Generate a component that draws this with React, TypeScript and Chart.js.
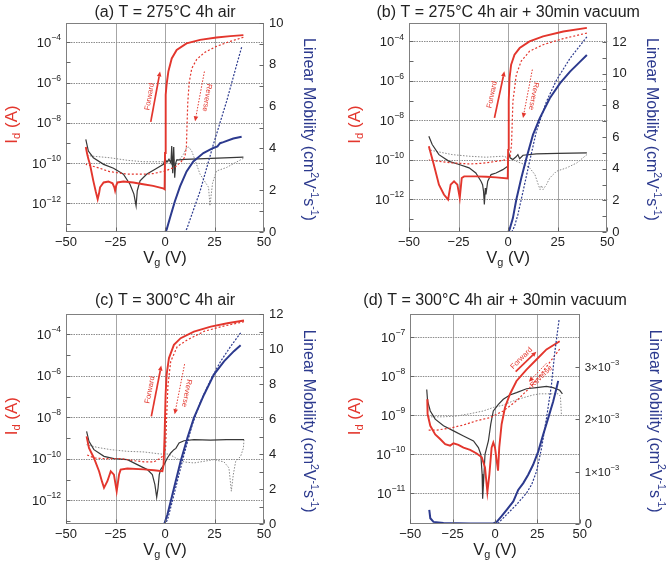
import React, { useEffect, useRef } from "react";
import { Chart, registerables } from "chart.js";

Chart.register(...registerables);

type Pt = [number, number];

// ---------- shared axis values ----------
const X_TICKS = [-50, -25, 0, 25, 50];
const X_GRID = [-25, 0, 25];

// ---------- (a) T = 275°C 4h air ----------  [Vg (V), log10 Id (A)]  /  [Vg, mobility]
const A_ID_FWD: Pt[] = [[-40,-9.2],[-39.3,-9.55],[-38.7,-9.8],[-37.9,-10.06],[-36.2,-10.88],[-35,-11.4],[-34,-11.79],[-33.3,-11.5],[-32.8,-11.2],[-31,-10.96],[-28.6,-10.91],[-26.5,-11.0],[-25.6,-11.2],[-25.2,-11.37],[-24.6,-11.1],[-24,-10.96],[-21,-10.91],[-16,-10.96],[-11,-11.05],[-6,-11.13],[-1,-11.25],[-0.2,-11.3],[0,-9.5],[0.2,-7.5],[0.5,-6.6],[0.8,-6.1],[1.7,-5.45],[3.4,-4.8],[5.9,-4.38],[10.9,-4.05],[17.7,-3.88],[26,-3.76],[33,-3.69],[39.6,-3.64]];
const A_ID_REV: Pt[] = [[39.6,-3.75],[33,-3.95],[26,-4.2],[20,-4.5],[16,-4.85],[13.5,-5.3],[12.2,-6.0],[11.5,-7.0],[11.1,-8.2],[10.8,-9.2],[10,-9.7],[8,-9.95],[5,-10.2],[0,-10.39],[-6,-10.52],[-11,-10.55],[-19,-10.55],[-28,-10.42],[-34,-10.22],[-40,-10.06]];
const A_IG_FWD: Pt[] = [[-40,-8.82],[-38.7,-9.4],[-36.2,-9.73],[-31,-10.06],[-26,-10.25],[-21,-10.55],[-17.7,-11.05],[-15.7,-11.54],[-14.6,-12.12],[-14,-11.37],[-12.6,-10.88],[-9.3,-10.55],[-5,-10.3],[-0.8,-10.06],[0,-9.8],[1,-9.95],[2,-9.8],[3,-10.0],[3.4,-9.15],[3.9,-10.5],[4.4,-9.2],[4.9,-10.72],[5.4,-10.0],[5.9,-9.85],[10,-9.81],[20,-9.78],[30,-9.74],[39.6,-9.7]];
const A_IG_REV: Pt[] = [[39.6,-9.76],[36,-9.95],[31,-10.22],[26,-10.39],[24,-11.0],[22.7,-12.12],[22,-11.2],[21,-11.05],[17.7,-10.55],[15,-9.8],[13.5,-9.4],[12,-9.2],[10.9,-9.23],[9.3,-9.56],[7.6,-9.8],[4,-9.86],[0,-9.93],[-11,-9.93],[-19,-9.86],[-28,-9.73],[-37,-9.65],[-40,-9.6]];
const A_MU_FWD: Pt[] = [[-40,0],[0,0],[0.8,0.11],[2.5,0.67],[5,1.47],[7.6,2.18],[10.9,2.9],[14.3,3.38],[19.4,3.78],[24.4,4.02],[26.5,4.1],[27.8,4.25],[29.5,4.3],[34.5,4.47],[38.7,4.56]];
const A_MU_REV: Pt[] = [[38.7,8.84],[36.2,8.0],[31.1,6.25],[24.4,4.18],[17.7,1.95],[11,0.15],[10,0],[-40,0]];

// ---------- (b) T = 275°C 4h air + 30min vacuum ----------
const B_ID_FWD: Pt[] = [[-40,-9.32],[-37.5,-10.24],[-34.9,-11.26],[-32.4,-11.76],[-30.3,-12.02],[-29,-11.26],[-27.3,-11.09],[-25.6,-11.26],[-24.4,-11.93],[-23.4,-10.92],[-22.2,-10.84],[-16.3,-10.84],[-11,-10.86],[-6.1,-10.89],[-0.2,-10.95],[0,-9.5],[0.3,-7.0],[0.7,-5.86],[1.5,-5.18],[3.2,-4.68],[5.8,-4.34],[10.8,-4.0],[17.6,-3.75],[27.8,-3.5],[39.7,-3.32]];
const B_ID_REV: Pt[] = [[39.7,-3.58],[27.8,-3.86],[17.6,-4.17],[10.8,-4.5],[6.6,-5.0],[4.1,-5.69],[2.4,-7.04],[1.7,-9.23],[1,-9.82],[-1,-10.0],[-6.1,-10.08],[-12.9,-10.18],[-19.7,-10.21],[-28.1,-10.16],[-34.9,-10.08],[-40,-10.0]];
const B_IG_FWD: Pt[] = [[-40,-8.81],[-38.3,-9.23],[-34.9,-9.74],[-29.8,-10.08],[-24.7,-10.24],[-19.7,-10.41],[-16.3,-10.67],[-13.7,-11.09],[-12.9,-11.26],[-12.4,-11.6],[-12.0,-12.27],[-11.5,-11.43],[-11.2,-11.76],[-10.3,-11.09],[-8.6,-10.75],[-6.1,-10.67],[-2.7,-10.5],[-0.2,-10.33],[0.3,-9.65],[1,-9.9],[2.4,-9.99],[4,-9.85],[4.9,-9.74],[5.8,-9.95],[7.5,-9.77],[14.2,-9.7],[25,-9.68],[39.7,-9.65]];
const B_IG_REV: Pt[] = [[39.7,-9.74],[34.6,-10.16],[29.5,-10.41],[24.4,-10.58],[21,-10.92],[19.3,-11.26],[17.6,-11.51],[16.8,-11.3],[16.1,-11.51],[15.2,-11.26],[13.5,-10.75],[10.8,-10.41],[8.3,-10.24],[4.1,-10.08],[0.7,-9.91],[-2.7,-9.82],[-11.2,-9.87],[-19.7,-9.82],[-28.1,-9.74],[-36.6,-9.57],[-40,-9.49]];
const B_MU_FWD: Pt[] = [[-38,0],[0,0],[0.7,0.15],[2.4,0.88],[4.1,2.04],[6.6,3.4],[9.2,4.66],[12.5,6.13],[15.9,7.18],[21,8.45],[26.1,9.39],[31.2,10.13],[36.3,10.76],[39.7,11.18]];
const B_MU_REV: Pt[] = [[39.7,12.33],[31.2,10.97],[24.4,9.6],[19.3,8.24],[14.2,6.34],[10.8,4.45],[7.5,2.56],[4.9,1.09],[3.2,0.36],[2,0.04],[1.5,0],[-38,0]];

// ---------- (c) T = 300°C 4h air ----------
const C_ID_FWD: Pt[] = [[-39.6,-8.92],[-38.4,-9.48],[-35.9,-9.96],[-33.3,-10.6],[-31.8,-11.1],[-30.8,-11.4],[-29.1,-11.08],[-27.4,-10.6],[-25.8,-10.76],[-24.4,-11.56],[-23.2,-10.76],[-22.4,-10.52],[-19,-10.47],[-10.6,-10.51],[-5.6,-10.55],[-1.3,-10.6],[-0.7,-10.28],[-0.2,-8.84],[0.3,-6.92],[0.8,-5.96],[2,-5.15],[4.5,-4.51],[7.9,-4.19],[14.6,-3.87],[23.1,-3.63],[31.5,-3.47],[39.9,-3.34]];
const C_ID_REV: Pt[] = [[39.9,-3.4],[30,-3.6],[20,-3.85],[11.3,-4.27],[6.2,-4.59],[2.9,-5.31],[1.5,-6.44],[0.8,-8.04],[0.3,-9.48],[-0.5,-9.8],[-2.2,-9.96],[-5.6,-10.15],[-10.6,-10.15],[-15.7,-10.09],[-22.4,-9.99],[-30.8,-9.99],[-35.9,-9.96],[-39.6,-9.8]];
const C_IG_FWD: Pt[] = [[-39.6,-8.68],[-38.4,-9.16],[-35.9,-9.56],[-30.8,-9.88],[-25.8,-9.99],[-19,-10.04],[-14,-10.28],[-8.9,-10.52],[-6.4,-10.76],[-5.1,-11.24],[-4.2,-11.85],[-3.5,-11.4],[-2.9,-10.76],[-2.2,-10.52],[-0.5,-10.28],[1.2,-9.96],[2.9,-9.72],[4.5,-9.56],[5.5,-9.5],[7.1,-9.24],[9.6,-9.13],[14.6,-9.08],[23,-9.1],[31,-9.08],[39.9,-9.08]];
const C_IG_REV: Pt[] = [[39.9,-9.08],[39.6,-9.48],[38.2,-9.88],[35.7,-10.12],[34.5,-10.76],[33.5,-11.56],[32.3,-10.44],[29.8,-10.15],[24.7,-10.04],[19.7,-10.12],[14.6,-10.2],[9.6,-10.15],[5.4,-9.96],[2,-9.77],[-2.2,-9.77],[-10.6,-9.67],[-19,-9.64],[-27.4,-9.56],[-34.2,-9.45],[-39.6,-9.32]];
const C_MU_FWD: Pt[] = [[-38,0],[-0.5,0],[-0.2,0.06],[1.2,0.53],[2.9,1.3],[5.4,2.44],[7.9,3.59],[11.3,4.92],[14.6,6.07],[19.7,7.4],[24.7,8.55],[29.8,9.31],[34.8,9.89],[38.2,10.23]];
const C_MU_REV: Pt[] = [[38.2,10.94],[33.2,10.17],[28.1,9.31],[23.1,8.26],[18,7.02],[13.8,5.69],[9.6,3.97],[6.2,2.44],[3.7,1.3],[1.5,0.34],[0.3,0],[-38,0]];

// ---------- (d) T = 300°C 4h air + 30min vacuum ----------  mobility in units of 1e-3
const D_ID_FWD: Pt[] = [[-40,-8.59],[-39.8,-8.97],[-38.2,-9.27],[-35.3,-9.49],[-32.4,-9.61],[-29.4,-9.74],[-26.5,-9.78],[-24.5,-9.72],[-21.6,-9.76],[-18.6,-9.83],[-14.7,-9.89],[-10.8,-9.98],[-7.8,-10.08],[-5.9,-10.34],[-4.5,-10.97],[-3.3,-10.51],[-2,-9.83],[-1,-9.7],[0,-9.83],[1,-10.17],[1.8,-10.42],[2.5,-9.83],[3.9,-9.23],[5.9,-8.8],[8.8,-8.46],[12.7,-8.12],[18.6,-7.83],[24.5,-7.57],[30.4,-7.31],[38.2,-7.1]];
const D_ID_REV: Pt[] = [[38.2,-7.3],[28.4,-7.87],[20.6,-8.29],[12.7,-8.63],[4.9,-8.89],[-2.9,-9.06],[-10.8,-9.14],[-18.6,-9.25],[-26.5,-9.33],[-34.3,-9.38],[-40,-9.38]];
const D_IG_FWD: Pt[] = [[-40.3,-8.34],[-39.8,-8.63],[-38.2,-8.89],[-35.3,-9.1],[-30.4,-9.27],[-24.5,-9.4],[-18.6,-9.53],[-12.7,-9.66],[-9.8,-9.83],[-8.4,-10.0],[-7.6,-10.51],[-7.3,-11.14],[-6.7,-10.68],[-5.9,-10.0],[-3.9,-9.66],[-2.5,-9.23],[-1,-8.89],[2,-8.72],[4.9,-8.59],[8.8,-8.48],[12.7,-8.42],[18.6,-8.32],[24.5,-8.29],[30.4,-8.26],[34.3,-8.29],[38.2,-8.36],[39.8,-8.45]];
const D_IG_REV: Pt[] = [[39.2,-8.97],[38.6,-8.51],[37.3,-8.45],[32.4,-8.45],[26.5,-8.45],[22.5,-8.48],[16.7,-8.55],[10.8,-8.63],[4.9,-8.74],[-1,-8.8],[-6.9,-8.89],[-14.7,-8.96],[-22.5,-9.02],[-30.4,-9.04],[-40,-9.04]];
const D_MU_FWD: Pt[] = [[-38.8,0.27],[-38.2,0.11],[-36.3,0.04],[-30.4,0.02],[-14.7,0.01],[-1,0.01],[1,0.04],[3.9,0.15],[6.9,0.27],[10.8,0.43],[13.7,0.65],[16.7,0.78],[19.6,0.94],[22.5,1.13],[25.5,1.38],[28.4,1.7],[31.4,2.02],[34.3,2.33],[36.3,2.59],[37.3,2.73]];
const D_MU_REV: Pt[] = [[37.8,3.89],[35.3,3.28],[33.3,2.65],[30.4,2.02],[27.5,1.45],[24.5,1.0],[21.6,0.75],[18.6,0.59],[12.7,0.37],[6.9,0.18],[2,0.02],[-1,0],[-36,0]];

// ---------- tick values ----------
const ABC_LOG_LABELS = [-12, -10, -8, -6, -4];
const ABC_LOG_MINOR = [-13, -11, -9, -7, -5];
const D_LOG_LABELS = [-11, -10, -9, -8, -7];
const A_MU_LABELS = [0, 2, 4, 6, 8, 10];
const A_MU_MINOR = [1, 3, 5, 7, 9];
const BC_MU_LABELS = [0, 2, 4, 6, 8, 10, 12];
const BC_MU_MINOR = [1, 3, 5, 7, 9, 11];
const D_MU_LABELS = [0, 1, 2, 3];

const FONT = '"Liberation Sans", Arial, Helvetica, sans-serif';
const RED = "#e3362d";
const BLUE = "#2c3a8e";
const TXT = "#222222";

Chart.defaults.font.family = FONT;

interface Seg { t: string; k?: "sub" | "sup" }
interface Note { from: Pt; to: Pt; dashed: boolean; text: string; at: Pt; angle: number }
interface Area { l: number; r: number; t: number; b: number }
interface Panel {
  title: string;
  left: number; top: number; w: number; h: number;
  area: Area;
  logMin: number; logMax: number;
  logLabels: number[]; logMinor: number[];
  muMax: number; muScale: number;
  muLabels: number[]; muMinor: number[]; muExp: string | null; muFont: number;
  idFwd: Pt[]; idRev: Pt[]; igFwd: Pt[]; igRev: Pt[]; muFwd: Pt[]; muRev: Pt[];
  notes: Note[];
  idTitleX: number; muTitleX: number; titleY: number;
}

const PANELS: Panel[] = [
  {
    title: "(a) T = 275°C 4h air",
    left: 0, top: 0, w: 333, h: 285,
    area: { l: 66, r: 264, t: 23, b: 232 },
    logMin: -13.42, logMax: -3.04, logLabels: ABC_LOG_LABELS, logMinor: ABC_LOG_MINOR,
    muMax: 10, muScale: 1, muLabels: A_MU_LABELS, muMinor: A_MU_MINOR, muExp: null, muFont: 13,
    idFwd: A_ID_FWD, idRev: A_ID_REV, igFwd: A_IG_FWD, igRev: A_IG_REV, muFwd: A_MU_FWD, muRev: A_MU_REV,
    notes: [
      { from: [-7.2, -7.95], to: [-2.5, -5.45], dashed: false, text: "Forward", at: [-7.8, -6.7], angle: -80 },
      { from: [19.9, -5.45], to: [15.2, -7.92], dashed: true, text: "Reverse", at: [21.2, -6.75], angle: 100 },
    ],
    idTitleX: 12, muTitleX: 308, titleY: 12.5,
  },
  {
    title: "(b) T = 275°C 4h air + 30min vacuum",
    left: 333, top: 0, w: 333, h: 285,
    area: { l: 76, r: 274.3, t: 23, b: 232 },
    logMin: -13.66, logMax: -3.07, logLabels: ABC_LOG_LABELS, logMinor: ABC_LOG_MINOR,
    muMax: 13.2, muScale: 1, muLabels: BC_MU_LABELS, muMinor: BC_MU_MINOR, muExp: null, muFont: 13,
    idFwd: B_ID_FWD, idRev: B_ID_REV, igFwd: B_IG_FWD, igRev: B_IG_REV, muFwd: B_MU_FWD, muRev: B_MU_REV,
    notes: [
      { from: [-6.9, -7.88], to: [-1.9, -5.52], dashed: false, text: "Forward", at: [-8.1, -6.7], angle: -78 },
      { from: [12.2, -5.43], to: [7.5, -7.88], dashed: true, text: "Reverse", at: [12.8, -6.78], angle: 101 },
    ],
    idTitleX: 22, muTitleX: 318, titleY: 12.5,
  },
  {
    title: "(c) T = 300°C 4h air",
    left: 0, top: 285, w: 333, h: 286,
    area: { l: 66, r: 264, t: 29.3, b: 239 },
    logMin: -13.14, logMax: -3.04, logLabels: ABC_LOG_LABELS, logMinor: ABC_LOG_MINOR,
    muMax: 12, muScale: 1, muLabels: BC_MU_LABELS, muMinor: BC_MU_MINOR, muExp: null, muFont: 13,
    idFwd: C_ID_FWD, idRev: C_ID_REV, igFwd: C_IG_FWD, igRev: C_IG_REV, muFwd: C_MU_FWD, muRev: C_MU_REV,
    notes: [
      { from: [-6.9, -7.96], to: [-1.9, -5.51], dashed: false, text: "Forward", at: [-7.6, -6.68], angle: -79 },
      { from: [9.9, -5.44], to: [4.9, -7.85], dashed: true, text: "Reverse", at: [10.9, -6.84], angle: 101 },
    ],
    idTitleX: 12, muTitleX: 308, titleY: 15.7,
  },
  {
    title: "(d) T = 300°C 4h air + 30min vacuum",
    left: 333, top: 285, w: 333, h: 286,
    area: { l: 77.3, r: 246.7, t: 29.3, b: 239 },
    logMin: -11.79, logMax: -6.41, logLabels: D_LOG_LABELS, logMinor: [],
    muMax: 4, muScale: 1e-3, muLabels: D_MU_LABELS, muMinor: [], muExp: "−3", muFont: 11.5,
    idFwd: D_ID_FWD, idRev: D_ID_REV, igFwd: D_IG_FWD, igRev: D_IG_REV, muFwd: D_MU_FWD, muRev: D_MU_REV,
    notes: [
      { from: [12.2, -7.88], to: [24.4, -7.37], dashed: false, text: "Forward", at: [15.6, -7.54], angle: -45 },
      { from: [30.3, -7.67], to: [20, -8.14], dashed: true, text: "Reverse", at: [27.3, -8.01], angle: -45 },
    ],
    idTitleX: 22, muTitleX: 321.7, titleY: 15.7,
  },
];

function drawRich(
  ctx: CanvasRenderingContext2D, segs: Seg[], x: number, y: number,
  angle: number, size: number, color: string, align: "left" | "center" | "right" = "center",
) {
  ctx.save();
  ctx.translate(x, y);
  ctx.rotate(angle);
  ctx.fillStyle = color;
  ctx.textBaseline = "middle";
  ctx.textAlign = "left";
  const small = size * 0.66;
  const widths = segs.map((s) => {
    ctx.font = `${s.k ? small : size}px ${FONT}`;
    return ctx.measureText(s.t).width;
  });
  const total = widths.reduce((a, b) => a + b, 0);
  let cx = align === "center" ? -total / 2 : align === "right" ? -total : 0;
  segs.forEach((s, i) => {
    ctx.font = `${s.k ? small : size}px ${FONT}`;
    const dy = s.k === "sub" ? size * 0.3 : s.k === "sup" ? -size * 0.4 : 0;
    ctx.fillText(s.t, cx, dy);
    cx += widths[i];
  });
  ctx.restore();
}

function hline(ctx: CanvasRenderingContext2D, x1: number, y1: number, x2: number, y2: number) {
  ctx.beginPath();
  ctx.moveTo(x1, y1);
  ctx.lineTo(x2, y2);
  ctx.stroke();
}

function makeDecor(p: Panel) {
  return {
    id: "decor",
    beforeDatasetsDraw(chart: any) {
      const { ctx, chartArea: a } = chart;
      const sx = chart.scales.x, sl = chart.scales.yL;
      ctx.save();
      ctx.lineWidth = 1;
      ctx.strokeStyle = "#a6a6a6";
      for (const v of X_GRID) {
        const x = Math.round(sx.getPixelForValue(v)) + 0.5;
        hline(ctx, x, a.top, x, a.bottom);
      }
      ctx.strokeStyle = "#8c8c8c";
      ctx.lineWidth = 1.2;
      ctx.setLineDash([1.5, 1]);
      for (const e of p.logLabels) {
        const y = Math.round(sl.getPixelForValue(Math.pow(10, e))) + 0.5;
        hline(ctx, a.left, y, a.right, y);
      }
      ctx.restore();
    },
    afterDatasetsDraw(chart: any) {
      const { ctx } = chart;
      const sx = chart.scales.x, sl = chart.scales.yL;
      ctx.save();
      for (const n of p.notes) {
        const x1 = sx.getPixelForValue(n.from[0]);
        const y1 = sl.getPixelForValue(Math.pow(10, n.from[1]));
        const x2 = sx.getPixelForValue(n.to[0]);
        const y2 = sl.getPixelForValue(Math.pow(10, n.to[1]));
        const ang = Math.atan2(y2 - y1, x2 - x1);
        const hl = 5, hw = 2.3;
        const bx = x2 - hl * Math.cos(ang), by = y2 - hl * Math.sin(ang);
        ctx.strokeStyle = RED;
        ctx.fillStyle = RED;
        ctx.lineWidth = n.dashed ? 1 : 1.7;
        ctx.setLineDash(n.dashed ? [1.5, 1.5] : []);
        hline(ctx, x1, y1, bx, by);
        ctx.setLineDash([]);
        ctx.beginPath();
        ctx.moveTo(x2, y2);
        ctx.lineTo(bx + hw * Math.sin(ang), by - hw * Math.cos(ang));
        ctx.lineTo(bx - hw * Math.sin(ang), by + hw * Math.cos(ang));
        ctx.closePath();
        ctx.fill();
        const tx = sx.getPixelForValue(n.at[0]);
        const ty = sl.getPixelForValue(Math.pow(10, n.at[1]));
        drawRich(ctx, [{ t: n.text }], tx, ty, (n.angle * Math.PI) / 180, 7.5, RED);
      }
      ctx.restore();
    },
    afterDraw(chart: any) {
      const { ctx, chartArea: a } = chart;
      const sx = chart.scales.x, sl = chart.scales.yL, sr = chart.scales.yR;
      ctx.save();
      // frame
      ctx.strokeStyle = "#808080";
      ctx.lineWidth = 1;
      const L = Math.round(a.left) + 0.5, R = Math.round(a.right) - 0.5;
      const T = Math.round(a.top) + 0.5, B = Math.round(a.bottom) - 0.5;
      ctx.strokeRect(L, T, R - L, B - T);
      // tick marks
      ctx.strokeStyle = "#666666";
      for (const e of [...p.logLabels, ...p.logMinor]) {
        const y = Math.round(sl.getPixelForValue(Math.pow(10, e))) + 0.5;
        hline(ctx, L, y, L + 4, y);
      }
      for (const v of [...p.muLabels, ...p.muMinor]) {
        const y = Math.round(sr.getPixelForValue(v * p.muScale)) + 0.5;
        hline(ctx, R - 4, y, R, y);
      }
      for (const v of X_TICKS) {
        const x = Math.round(sx.getPixelForValue(v)) + 0.5;
        hline(ctx, x, B, x, B - 4);
      }
      // x tick labels
      for (const v of X_TICKS) {
        const s = v < 0 ? "−" + Math.abs(v) : String(v);
        drawRich(ctx, [{ t: s }], sx.getPixelForValue(v), a.bottom + 10, 0, 13, TXT);
      }
      // left log labels
      for (const e of p.logLabels) {
        drawRich(ctx, [{ t: "10" }, { t: "−" + Math.abs(e), k: "sup" }],
          a.left - 5, sl.getPixelForValue(Math.pow(10, e)) + 1, 0, 13, TXT, "right");
      }
      // right labels
      for (const v of p.muLabels) {
        const y = sr.getPixelForValue(v * p.muScale);
        const segs: Seg[] = p.muExp && v !== 0
          ? [{ t: `${v}×10` }, { t: p.muExp, k: "sup" }]
          : [{ t: String(v) }];
        drawRich(ctx, segs, a.right + 5, y + (p.muExp && v !== 0 ? 1 : 0), 0, v === 0 ? 13 : p.muFont, TXT, "left");
      }
      // titles
      const cx = (a.left + a.right) / 2, cy = (a.top + a.bottom) / 2;
      drawRich(ctx, [{ t: p.title }], cx, p.titleY, 0, 16, TXT);
      drawRich(ctx, [{ t: "V" }, { t: "g", k: "sub" }, { t: " (V)" }], cx, a.bottom + 26, 0, 16.5, TXT);
      drawRich(ctx, [{ t: "I" }, { t: "d", k: "sub" }, { t: " (A)" }], p.idTitleX, cy - 3, -Math.PI / 2, 17, RED);
      drawRich(ctx,
        [{ t: "Linear Mobility (cm" }, { t: "2", k: "sup" }, { t: "V" }, { t: "-1", k: "sup" }, { t: "s" }, { t: "-1", k: "sup" }, { t: ")" }],
        p.muTitleX, cy + 2, Math.PI / 2, 16, BLUE);
      ctx.restore();
    },
  };
}

function PanelChart({ p }: { p: Panel }) {
  const ref = useRef<HTMLCanvasElement>(null);
  useEffect(() => {
    const c = ref.current;
    if (!c) return;
    const logPts = (pts: Pt[]) => pts.map(([x, e]) => ({ x, y: Math.pow(10, e) }));
    const muPts = (pts: Pt[]) => pts.map(([x, m]) => ({ x, y: m * p.muScale }));
    const line = (data: any[], axis: string, color: string, width: number, dash: number[]) => ({
      data, yAxisID: axis, borderColor: color, backgroundColor: color, borderWidth: width,
      borderDash: dash, pointRadius: 0, tension: 0, fill: false,
    });
    const { area, w, h } = p;
    const chart = new Chart(c, {
      type: "line",
      data: {
        datasets: [
          line(muPts(p.muFwd), "yR", BLUE, 2, []),
          line(muPts(p.muRev), "yR", BLUE, 1.2, [2, 1.5]),
          line(logPts(p.idFwd), "yL", RED, 1.9, []),
          line(logPts(p.idRev), "yL", RED, 1.2, [2, 2]),
          line(logPts(p.igFwd), "yL", "#383838", 1.2, []),
          line(logPts(p.igRev), "yL", "#8a8a8a", 1, [1.5, 1.5]),
        ] as any,
      },
      options: {
        animation: false,
        responsive: false,
        devicePixelRatio: 1,
        events: [],
        layout: { padding: { top: area.t, left: 0, right: 0, bottom: 0 } },
        plugins: { legend: { display: false }, tooltip: { enabled: false }, title: { display: false } },
        scales: {
          x: {
            type: "linear", position: "bottom", min: -50, max: 50,
            ticks: { display: false }, grid: { display: false }, border: { display: false },
            afterFit: (s: any) => { s.height = h - area.b; },
          },
          yL: {
            type: "logarithmic", position: "left", min: Math.pow(10, p.logMin), max: Math.pow(10, p.logMax),
            ticks: { display: false }, grid: { display: false }, border: { display: false },
            afterFit: (s: any) => { s.width = area.l; },
          },
          yR: {
            type: "linear", position: "right", min: 0, max: p.muMax * p.muScale,
            ticks: { display: false }, grid: { display: false }, border: { display: false },
            afterFit: (s: any) => { s.width = w - area.r; },
          },
        } as any,
      },
      plugins: [makeDecor(p) as any],
    });
    return () => chart.destroy();
  }, [p]);
  return (
    <canvas
      ref={ref}
      width={p.w}
      height={p.h}
      style={{ position: "absolute", left: p.left, top: p.top, width: p.w, height: p.h }}
    />
  );
}

export default function App() {
  return (
    <div style={{ position: "absolute", left: 0, top: 0, width: 666, height: 571, background: "#ffffff" }}>
      {PANELS.map((p) => (
        <PanelChart key={p.title} p={p} />
      ))}
    </div>
  );
}
